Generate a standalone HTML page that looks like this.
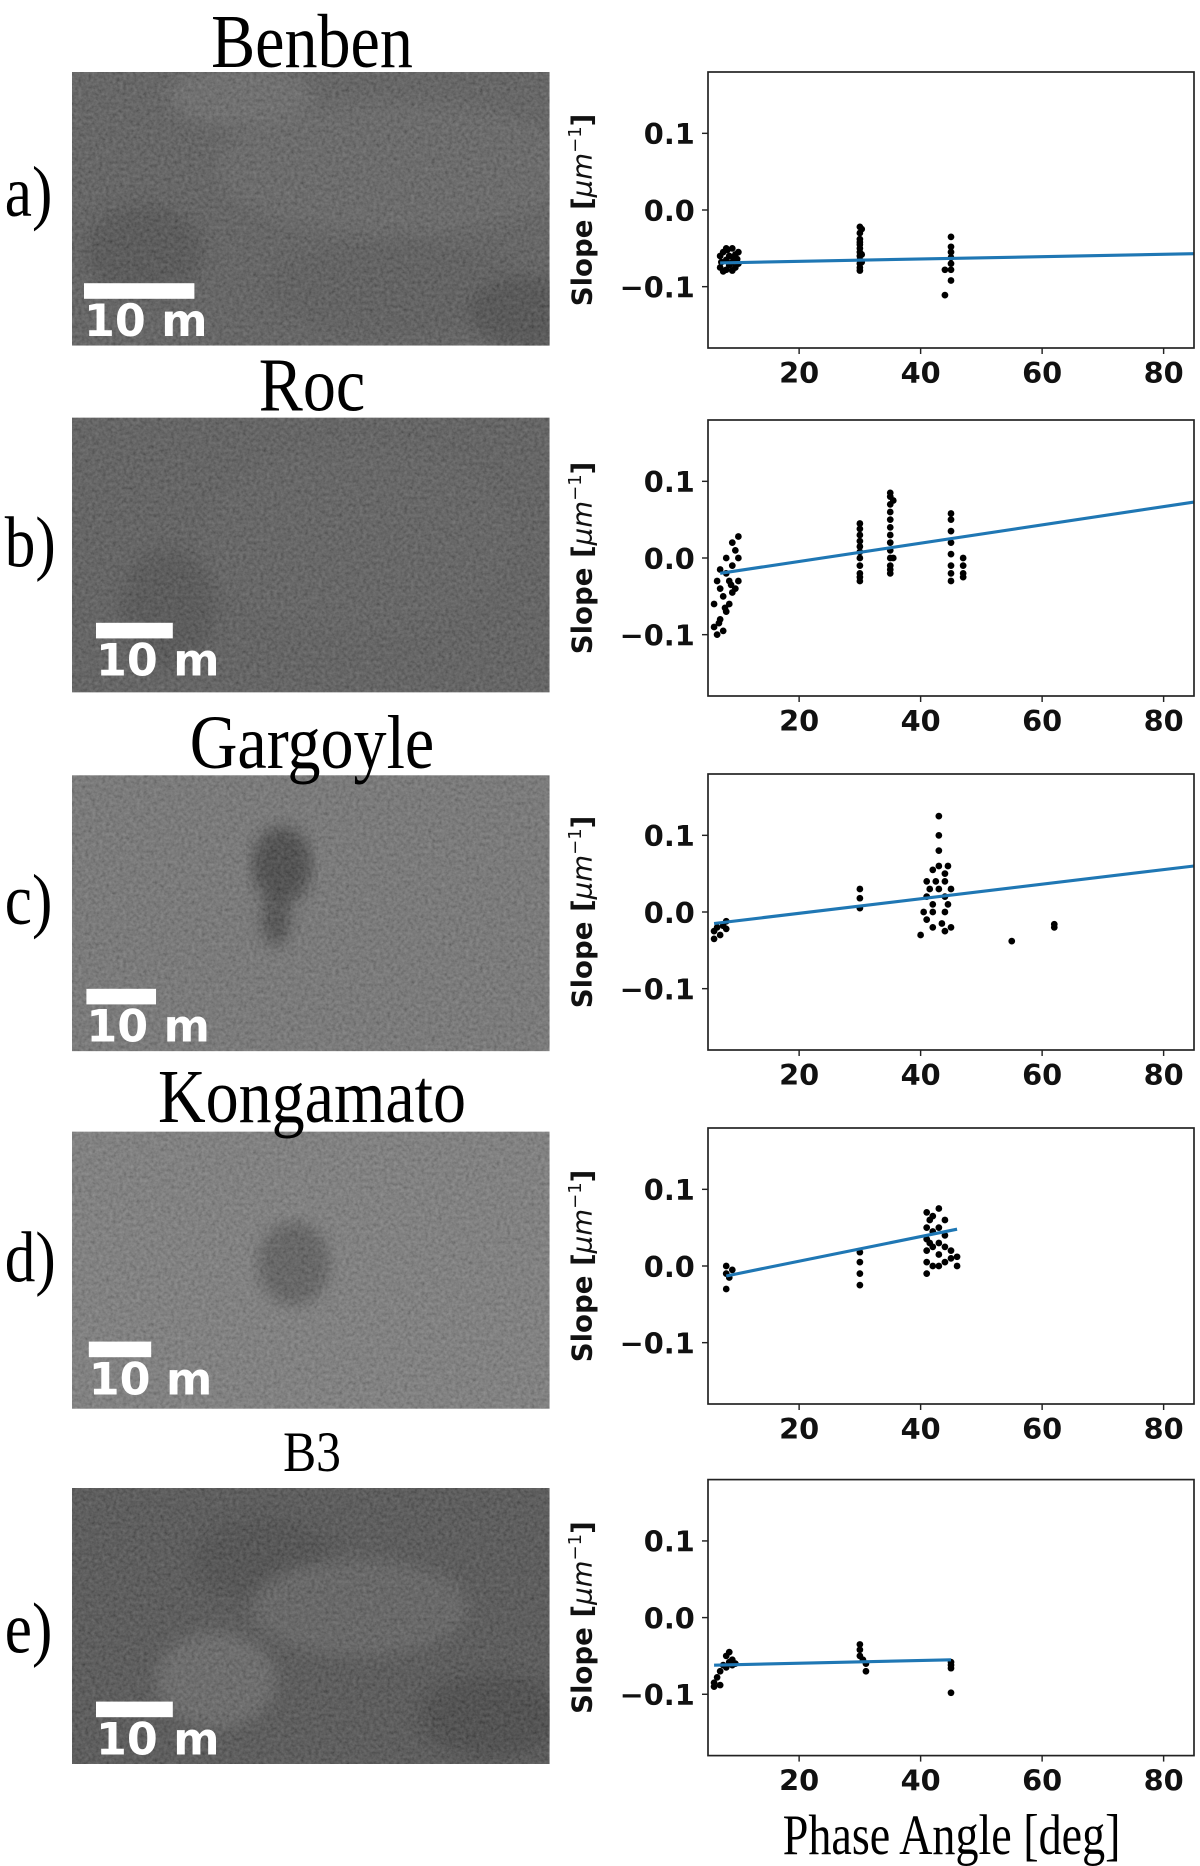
<!DOCTYPE html>
<html><head><meta charset="utf-8"><style>
html,body{margin:0;padding:0;background:#fff;}
svg{display:block;}
.tk{font-family:"DejaVu Sans","Liberation Sans",sans-serif;font-weight:bold;font-size:24px;fill:#111;}
.yl{font-family:"DejaVu Sans","Liberation Sans",sans-serif;font-weight:bold;font-size:23px;fill:#111;}
.ttl{font-family:"Liberation Serif",serif;fill:#000;}
.sb{font-family:"DejaVu Sans","Liberation Sans",sans-serif;font-weight:bold;font-size:37px;fill:#fff;}
</style></head><body>
<svg id="fig" width="1200" height="1866" viewBox="0 0 1000 1555" xmlns="http://www.w3.org/2000/svg">
<defs id="defs">
<filter id="tex" x="0" y="0" width="100%" height="100%">
<feTurbulence type="fractalNoise" baseFrequency="0.35" numOctaves="3" seed="4"/>
<feColorMatrix type="saturate" values="0"/>
<feComponentTransfer><feFuncA type="linear" slope="0" intercept="0.35"/></feComponentTransfer>
</filter>
<filter id="blur"><feGaussianBlur stdDeviation="6"/></filter>
</defs>
</svg>
<script>
// ---- data ----
const panelLetters = ['a)','b)','c)','d)','e)'];
const panelNames = ['Benben','Roc','Gargoyle','Kongamato','B3'];
const xTicks = [20,40,60,80];
const yTicks = [0.1,0.0,-0.1];
const yTickLabels = ['0.1','0.0','\u22120.1'];
const fitX0 = [7,7,6,8,6];
const fitX1 = [85,85,85,46,45];
const fitY0 = [-0.069,-0.020,-0.015,-0.013,-0.062];
const fitY1 = [-0.057,0.073,0.060,0.048,-0.055];
const ptsXa = [7,7,7.5,7.5,8,8,8,8.5,8.5,9,9,9,9.5,9.5,10,10,7.2,8.2,9.2,9.8,
  30,30,30,30,30,30,30,30,30,30,30,30,30.3,30.3,30.3,
  45,45,45,45,45,45,45,44,44];
const ptsYa = [-0.06,-0.075,-0.055,-0.08,-0.05,-0.065,-0.078,-0.06,-0.072,-0.05,-0.068,-0.079,-0.058,-0.075,-0.055,-0.07,-0.068,-0.052,-0.062,-0.064,
  -0.022,-0.03,-0.038,-0.045,-0.05,-0.055,-0.06,-0.065,-0.07,-0.075,-0.079,-0.042,-0.025,-0.058,-0.068,
  -0.035,-0.048,-0.055,-0.062,-0.07,-0.078,-0.092,-0.078,-0.111];
const ptsXb = [6,6,6.5,6.5,7,7,7,7.5,7.5,8,8,8,8.5,8.5,9,9,9,9.5,9.5,10,10,10,6.8,7.8,8.8,
  30,30,30,30,30,30,30,30,30,30,30,
  35,35,35,35,35,35,35,35,35,35,35,35,35,35.5,35.5,
  45,45,45,45,45,45,45,45,47,47,47,47];
const ptsYb = [-0.09,-0.06,-0.1,-0.03,-0.08,-0.04,-0.015,-0.095,-0.05,-0.07,-0.02,0.0,-0.06,-0.03,-0.045,-0.01,0.02,-0.04,0.01,-0.03,0.0,0.028,-0.085,-0.065,-0.035,
  -0.03,-0.02,-0.01,0.0,0.008,0.015,0.022,0.03,0.038,0.045,-0.025,
  -0.02,-0.01,0.0,0.01,0.02,0.03,0.04,0.05,0.06,0.07,0.08,0.085,-0.015,0.075,0.0,
  0.058,0.05,0.035,0.02,0.005,-0.01,-0.02,-0.03,-0.01,-0.02,-0.025,0.0];
const ptsXc = [6,6,6.5,7,7.5,8,8,
  30,30,30,
  40,40.5,41,41,41,41.5,42,42,42,42,42.5,43,43,43,43,43,43.5,44,44,44,44,44,44.5,44.5,45,45,
  55,62,62];
const ptsYc = [-0.035,-0.025,-0.02,-0.03,-0.018,-0.012,-0.022,
  0.005,0.018,0.03,
  -0.03,0.0,0.02,-0.01,0.04,0.03,0.055,0.0,-0.02,0.01,0.04,0.125,0.1,0.08,0.06,0.03,-0.015,0.05,0.02,0.0,-0.025,0.04,0.06,0.01,-0.02,0.03,
  -0.038,-0.016,-0.02];
const ptsXd = [8,8,8,8.5,9,
  30,30,30,30,
  41,41,41,41,41,41,41.5,41.5,42,42,42,42,43,43,43,43,43,44,44,44,44,45,45,46,46];
const ptsYd = [-0.03,-0.01,0.0,-0.015,-0.005,
  -0.025,-0.01,0.005,0.018,
  -0.01,0.005,0.02,0.035,0.05,0.07,0.03,0.06,0.0,0.025,0.045,0.065,0.075,0.05,0.03,0.015,0.0,0.06,0.04,0.025,0.005,0.02,0.01,0.012,0.0];
const ptsXe = [6,6,6.5,7,7,7.5,8,8,8.5,8.5,9,9,9.5,
  30,30,30,30.5,31,31,
  45,45,45,45];
const ptsYe = [-0.085,-0.09,-0.078,-0.07,-0.088,-0.062,-0.05,-0.065,-0.045,-0.058,-0.055,-0.062,-0.06,
  -0.035,-0.042,-0.05,-0.055,-0.06,-0.07,
  -0.058,-0.062,-0.066,-0.098];
const ptsX = [ptsXa,ptsXb,ptsXc,ptsXd,ptsXe];
const ptsY = [ptsYa,ptsYb,ptsYc,ptsYd,ptsYe];

// ---- layout ----
const NS='http://www.w3.org/2000/svg';
const svg=document.getElementById('fig');
const defs=document.getElementById('defs');
const frameTop=[60,350,645,940,1233];
const imgTop=[60,348,646,943,1240];
const imgH=[228,229,230,231,230];
const imgTone=['#3a3a3a','#383838','#585858','#626262','#2c2c2c'];
const titleY=[56,342,640,935,1226];
const titleSize=[64,64,64,64,48];
const letterY=[180,472,770,1068,1377];
function mk(tag,attrs,parent){const e=document.createElementNS(NS,tag);for(const k in attrs)e.setAttribute(k,attrs[k]);(parent||svg).appendChild(e);return e;}
const FL=590, FR=995, FH=230;
const imgFeatures=[
  [[140,20,60,25,'#4a4a4a'],[270,80,150,55,'#424242'],[60,150,50,40,'#2a2a2a'],[270,180,110,40,'#363636'],[380,200,50,30,'#262626']],
  [[80,160,40,50,'#2c2c2c'],[240,100,130,80,'#3a3a3a']],
  [[175,75,25,32,'#1a1a1a'],[170,120,12,22,'#222']],
  [[185,110,30,35,'#3a3a3a']],
  [[160,60,60,35,'#202020'],[240,100,90,40,'#3c3c3c'],[120,160,50,40,'#444'],[350,190,60,35,'#1e1e1e']]
];

for(let p=0;p<5;p++){
  const cp=mk('clipPath',{id:'clip'+p},defs);
  mk('rect',{x:60,y:imgTop[p],width:398,height:imgH[p]},cp);
  const g=mk('g',{});
  
  
  const im=mk('g',{'clip-path':'url(#clip'+p+')'},g);
  
  
  mk('rect',{x:60,y:imgTop[p],width:398,height:imgH[p],fill:imgTone[p]},im);
  const fg=mk('g',{filter:'url(#blur)'},im);
  for(const f of imgFeatures[p]) mk('ellipse',{cx:60+f[0],cy:imgTop[p]+f[1],rx:f[2],ry:f[3],fill:f[4]},fg);
  mk('rect',{x:60,y:imgTop[p],width:398,height:imgH[p],filter:'url(#tex)'},im);
  const sbW=[92,64,58,52,64][p];
  const sbX=[70,80,72,74,80][p];
  const sbY=imgTop[p]+imgH[p]-[52,58,52,56,52][p];
  const sbar=mk('rect',{x:sbX,y:sbY,width:sbW,height:13,fill:'#fff'},im);
  
  
  const st=mk('text',{x:sbX,y:sbY+44,class:'sb'},im);
  st.textContent='10 m';
  
  
  const t=mk('text',{x:260,y:titleY[p],class:'ttl','text-anchor':'middle','font-size':titleSize[p],transform:'translate(260,0) scale(0.86,1) translate(-260,0)'},g);
  t.textContent=panelNames[p];
  
  
  const l=mk('text',{x:4,y:letterY[p],class:'ttl','font-size':60,transform:'translate(4,0) scale(0.85,1) translate(-4,0)'},g);
  l.textContent=panelLetters[p];
  
  
  const top=frameTop[p];
  const X=v=>FL+(v-5)/80*(FR-FL);
  const Y=v=>top+FH/2-v/0.18*(FH/2);
  const ch=mk('g',{},g);
  
  
  for(let i=0;i<ptsX[p].length;i++){
    const c=mk('circle',{cx:X(ptsX[p][i]),cy:Y(ptsY[p][i]),r:2.8,fill:'#000'},ch);
    
    
  }
  const fl=mk('line',{x1:X(fitX0[p]),y1:Y(fitY0[p]),x2:X(fitX1[p]),y2:Y(fitY1[p]),stroke:'#1f77b4','stroke-width':2.6},ch);
  
  
  const fr=mk('rect',{x:FL,y:top,width:FR-FL,height:FH,fill:'none',stroke:'#222','stroke-width':1.4},ch);
  
  
  for(let i=0;i<xTicks.length;i++){
    const xx=X(xTicks[i]);
    mk('line',{x1:xx,y1:top+FH,x2:xx,y2:top+FH+5,stroke:'#222','stroke-width':1.2},ch);
    const tt=mk('text',{x:xx,y:top+FH+29,class:'tk','text-anchor':'middle'},ch);
    tt.textContent=xTicks[i];
    
    
  }
  for(let i=0;i<yTicks.length;i++){
    const yy=Y(yTicks[i]);
    mk('line',{x1:FL-5,y1:yy,x2:FL,y2:yy,stroke:'#222','stroke-width':1.2},ch);
    const tt=mk('text',{x:FL-11,y:yy+9,class:'tk','text-anchor':'end'},ch);
    tt.textContent=yTickLabels[i];
    
    
  }
  const yl=mk('text',{x:0,y:0,class:'yl','text-anchor':'middle',transform:'translate(493,'+(top+FH/2)+') rotate(-90)'},ch);
  yl.innerHTML='Slope [<tspan font-style="italic" font-weight="normal">\u03bcm</tspan><tspan font-size="15" dy="-9" font-weight="normal">\u22121</tspan><tspan dy="9">]</tspan>';
  
  
}
const xt=mk('text',{x:793,y:1545,class:'ttl','text-anchor':'middle','font-size':48,transform:'translate(793,0) scale(0.8,1) translate(-793,0)'});
xt.textContent='Phase Angle [deg]';


</script>
</body></html>
